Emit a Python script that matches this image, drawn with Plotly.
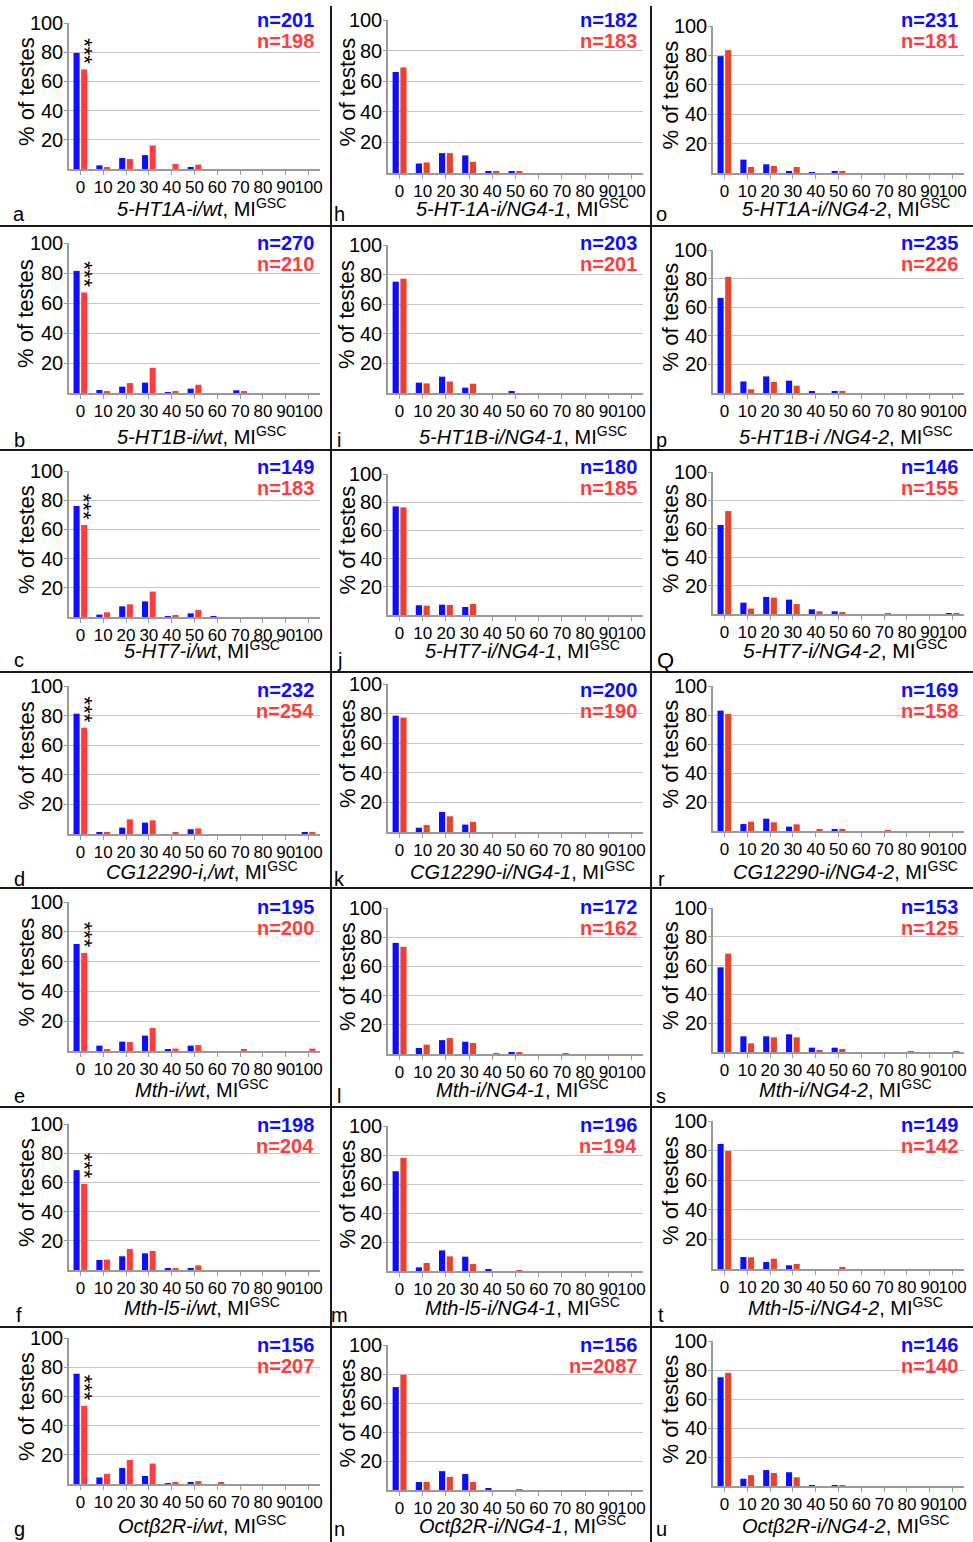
import plotly.graph_objects as go

W, H = 973, 1542

# MI(GSC) bins on the x axis
MI_BINS = [0, 10, 20, 30, 40, 50, 60, 70, 80, 90, 100]
MI_LABELS = [str(v) for v in MI_BINS]
Y_TICKS = [20, 40, 60, 80, 100]

# % of testes per MI bin: blue = control, red = RNAi
BLUE_A = [79.5, 2.5, 7.5, 9.5, 0, 0.9, 0, 0, 0, 0, 0]
RED_A = [68.2, 0.9, 6.8, 16.1, 3.4, 3.0, 0, 0, 0, 0, 0]
BLUE_B = [81.4, 2.0, 4.2, 6.9, 0.4, 2.9, 0, 1.8, 0, 0, 0]
RED_B = [67.0, 1.3, 6.6, 16.8, 1.3, 5.5, 0, 1.0, 0, 0, 0]
BLUE_C = [76.0, 1.6, 7.3, 10.7, 0.3, 2.5, 0.5, 0, 0, 0, 0]
RED_C = [63.0, 3.2, 8.7, 17.4, 0.9, 4.8, 0, 0, 0, 0, 0]
BLUE_D = [81.3, 0.9, 4.3, 7.7, 0, 3.2, 0, 0, 0, 0, 1.1]
RED_D = [71.8, 1.1, 9.9, 9.2, 1.1, 3.8, 0, 0, 0, 0, 0.7]
BLUE_E = [71.8, 3.6, 6.3, 10.3, 1.1, 3.6, 0, 0, 0, 0, 0]
RED_E = [65.8, 1.1, 6.0, 15.4, 1.6, 4.0, 0, 0.7, 0, 0, 1.6]
BLUE_F = [68.4, 6.9, 9.4, 11.4, 1.4, 0.9, 0, 0, 0, 0, 0]
RED_F = [59.0, 7.1, 14.4, 13.0, 0.9, 3.2, 0, 0, 0, 0, 0]
BLUE_G = [75.5, 4.5, 11.0, 5.5, 0.5, 1.0, 0, 0, 0, 0, 0]
RED_G = [53.5, 7.0, 16.5, 14.0, 1.0, 2.0, 0.7, 0, 0, 0, 0]

BLUE_H = [66.0, 6.2, 13.0, 11.5, 1.2, 1.2, 0, 0, 0, 0, 0]
RED_H = [69.0, 6.9, 13.0, 7.3, 1.2, 1.2, 0, 0, 0, 0, 0]
BLUE_I = [75.2, 7.0, 11.0, 3.6, 0, 0.8, 0, 0, 0, 0, 0]
RED_I = [77.2, 6.5, 7.7, 6.3, 0, 0, 0, 0, 0, 0, 0]
BLUE_J = [77.0, 6.9, 7.3, 5.7, 0, 0, 0, 0, 0, 0, 0]
RED_J = [76.3, 6.6, 7.1, 7.8, 0, 0, 0, 0, 0, 0, 0]
BLUE_K = [78.6, 2.9, 13.5, 5.0, 0, 0, 0, 0, 0, 0, 0]
RED_K = [77.3, 4.7, 10.6, 6.8, 0, 0, 0, 0, 0, 0, 0]
BLUE_L = [76.1, 4.1, 9.5, 8.4, 0, 0.7, 0, 0, 0, 0, 0]
RED_L = [73.4, 6.4, 10.9, 7.5, 0.3, 0.7, 0, 0.3, 0, 0, 0]
BLUE_M = [68.8, 2.5, 14.2, 9.9, 1.4, 0, 0, 0, 0, 0, 0]
RED_M = [78.0, 5.5, 10.1, 4.8, 0, 0.5, 0, 0, 0, 0, 0]
BLUE_N = [71.0, 5.5, 13.0, 11.0, 1.0, 0, 0, 0, 0, 0, 0]
RED_N = [79.5, 5.5, 9.0, 5.5, 0, 0.5, 0, 0, 0, 0, 0]

BLUE_O = [79.5, 9.1, 5.9, 1.4, 0.5, 0.9, 0, 0, 0, 0, 0]
RED_O = [83.6, 4.1, 4.8, 4.1, 0, 1.1, 0, 0, 0, 0, 0]
BLUE_P = [66.5, 8.1, 11.6, 8.6, 1.2, 0.9, 0, 0, 0, 0, 0]
RED_P = [81.2, 2.6, 7.7, 5.1, 0, 0.9, 0, 0, 0, 0, 0]
BLUE_Q = [62.7, 8.0, 12.0, 10.1, 3.3, 1.9, 0, 0, 0, 0, 0.3]
RED_Q = [72.5, 3.8, 11.5, 7.0, 1.9, 1.4, 0, 0.3, 0, 0, 0.3]
BLUE_R = [83.0, 4.8, 8.5, 3.0, 0, 1.1, 0, 0, 0, 0, 0]
RED_R = [80.8, 6.4, 6.0, 4.6, 1.4, 0.7, 0, 0.4, 0, 0, 0]
BLUE_S = [58.8, 10.9, 10.9, 12.3, 3.0, 3.0, 0, 0, 0, 0, 0]
RED_S = [68.3, 6.0, 10.2, 10.2, 0.7, 2.1, 0, 0, 0.6, 0, 0.6]
BLUE_T = [84.5, 8.1, 4.7, 2.5, 0, 0, 0, 0, 0, 0, 0]
RED_T = [79.7, 7.9, 7.0, 3.4, 0, 1.4, 0, 0, 0, 0, 0]
BLUE_U = [75.0, 5.0, 11.0, 9.5, 0.5, 0.5, 0, 0, 0, 0, 0]
RED_U = [78.0, 7.5, 9.0, 6.0, 0, 0.5, 0, 0, 0, 0, 0]

BLUE_SERIES = [BLUE_A, BLUE_B, BLUE_C, BLUE_D, BLUE_E, BLUE_F, BLUE_G,
               BLUE_H, BLUE_I, BLUE_J, BLUE_K, BLUE_L, BLUE_M, BLUE_N,
               BLUE_O, BLUE_P, BLUE_Q, BLUE_R, BLUE_S, BLUE_T, BLUE_U]
RED_SERIES = [RED_A, RED_B, RED_C, RED_D, RED_E, RED_F, RED_G,
              RED_H, RED_I, RED_J, RED_K, RED_L, RED_M, RED_N,
              RED_O, RED_P, RED_Q, RED_R, RED_S, RED_T, RED_U]

N_BLUE = [201, 270, 149, 232, 195, 198, 156,
          182, 203, 180, 200, 172, 196, 156,
          231, 235, 146, 169, 153, 149, 146]
N_RED = [198, 210, 183, 254, 200, 204, 207,
         183, 201, 185, 190, 162, 194, 2087,
         181, 226, 155, 158, 125, 142, 140]

PANEL_LETTERS = ["a", "b", "c", "d", "e", "f", "g",
                 "h", "i", "j", "k", "l", "m", "n",
                 "o", "p", "Q", "r", "s", "t", "u"]

GENOTYPES = [
    "5-HT1A-i/wt", "5-HT1B-i/wt", "5-HT7-i/wt", "CG12290-i,/wt",
    "Mth-i/wt", "Mth-l5-i/wt", "Oct\u03b22R-i/wt",
    "5-HT-1A-i/NG4-1", "5-HT1B-i/NG4-1", "5-HT7-i/NG4-1", "CG12290-i/NG4-1",
    "Mth-i/NG4-1", "Mth-l5-i/NG4-1", "Oct\u03b22R-i/NG4-1",
    "5-HT1A-i/NG4-2", "5-HT1B-i /NG4-2", "5-HT7-i/NG4-2", "CG12290-i/NG4-2",
    "Mth-i/NG4-2", "Mth-l5-i/NG4-2", "Oct\u03b22R-i/NG4-2",
]

# panels whose RNAi distribution differs significantly from control
SIGNIFICANT = ["a", "b", "c", "d", "e", "f", "g"]

# ---- geometry (pixels) ----
COL_X = [(69, 320), (388, 643), (713, 964)]
PANEL_TOP = [[23, 243, 471, 686, 902, 1124, 1338],
             [20, 245, 474, 684, 908, 1126, 1345],
             [26, 250, 472, 686, 908, 1121, 1341]]
PANEL_BOTTOM = [[169, 393, 617, 834, 1051, 1270, 1484],
                [173, 393, 615, 832, 1054, 1271, 1490],
                [173, 393, 614, 831, 1052, 1269, 1486]]
N_LABEL_Y = [20, 243, 467, 690, 907, 1125, 1345]
TITLE_Y = [208, 435, 649, 870, 1088, 1306, 1524]
LETTER_Y = [214, 440, 660, 879, 1096, 1315, 1529]
LETTER_X = [19, 339, 661]
YTITLE_X = [26, 347, 670]
ROW_LINES = [226, 450, 672, 888, 1107, 1327]
COL_LINES = [331, 651]

BLUE = "#0d0dff"
RED_COL = ["#ff3d3d", "#e8432c", "#e8432c"]
N_RED_COLOR = "#ff3d3d"
FONT = "Liberation Sans, Arial, Helvetica, sans-serif"

BARGAP = 0.33
BARGROUPGAP = 0.2


def px_x(v):
    return v / W


def px_y(v):
    return 1 - v / H


fig = go.Figure()
annotations = []
shapes = []

for idx in range(21):
    col, row = divmod(idx, 7)
    sfx = "" if idx == 0 else str(idx + 1)
    xa, ya = "x" + sfx, "y" + sfx
    x0, x1 = COL_X[col]
    top, bot = PANEL_TOP[col][row], PANEL_BOTTOM[col][row]

    fig.add_trace(go.Bar(x=MI_BINS, y=BLUE_SERIES[idx], marker_color=BLUE,
                         marker_line_width=0, xaxis=xa, yaxis=ya,
                         showlegend=False))
    fig.add_trace(go.Bar(x=MI_BINS, y=RED_SERIES[idx], marker_color=RED_COL[col],
                         marker_line_width=0, xaxis=xa, yaxis=ya,
                         showlegend=False))

    fig.layout["xaxis" + sfx] = dict(
        domain=[px_x(x0), px_x(x1)], anchor=ya, range=[-5, 105],
        automargin=False,
        tickmode="array", tickvals=MI_BINS, ticktext=MI_LABELS,
        tickangle=0, ticks="outside", ticklen=4, tickcolor="#9a9a9a",
        ticklabelstandoff=-2,
        showline=True, linecolor="#9a9a9a", linewidth=1.5,
        showgrid=False, zeroline=False, fixedrange=True,
        tickfont=dict(family=FONT, size=17, color="black"),
    )
    fig.layout["yaxis" + sfx] = dict(
        domain=[px_y(bot), px_y(top)], anchor=xa, range=[0, 100],
        automargin=False,
        tickmode="array", tickvals=Y_TICKS,
        ticks="outside", ticklen=3, tickcolor="#9a9a9a",
        ticklabelstandoff=-3,
        showline=True, linecolor="#9a9a9a", linewidth=1.5,
        showgrid=True, gridcolor="#c4c4c4", gridwidth=1.2,
        zeroline=False, fixedrange=True,
        tickfont=dict(family=FONT, size=20, color="black"),
    )

    # sample sizes
    annotations.append(dict(
        xref="paper", yref="paper", x=px_x(x1 - 4), y=px_y(N_LABEL_Y[row]),
        xanchor="right", yanchor="middle", showarrow=False,
        text=f"n={N_BLUE[idx]}",
        font=dict(family=FONT, size=20, color=BLUE, weight="bold")))
    annotations.append(dict(
        xref="paper", yref="paper", x=px_x(x1 - 4), y=px_y(N_LABEL_Y[row] + 21),
        xanchor="right", yanchor="middle", showarrow=False,
        text=f"n={N_RED[idx]}",
        font=dict(family=FONT, size=20, color=N_RED_COLOR, weight="bold")))

    # y-axis title
    annotations.append(dict(
        xref="paper", yref="paper", x=px_x(YTITLE_X[col]),
        y=px_y((top + bot) / 2 - 4), textangle=-90,
        xanchor="center", yanchor="middle", showarrow=False,
        text="% of testes", font=dict(family=FONT, size=22, color="black")))

    # x-axis title
    big = PANEL_LETTERS[idx] == "Q"
    annotations.append(dict(
        xref="paper", yref="paper", x=px_x((x0 + x1) / 2 + 7),
        y=px_y(TITLE_Y[row]), xanchor="center", yanchor="middle",
        showarrow=False,
        text=f"<i>{GENOTYPES[idx]}</i>, MI<sup>GSC</sup>",
        font=dict(family=FONT, size=21 if big else 20, color="black")))

    # panel letter
    annotations.append(dict(
        xref="paper", yref="paper", x=px_x(LETTER_X[col] + (4 if big else 0)),
        y=px_y(LETTER_Y[row]), xanchor="center", yanchor="middle",
        showarrow=False, text=PANEL_LETTERS[idx],
        font=dict(family=FONT, size=22 if big else 20, color="black")))

    # significance marker above the RNAi bar of the first bin
    if PANEL_LETTERS[idx] in SIGNIFICANT:
        slot = (1 - BARGAP) * 10 / 2
        annotations.append(dict(
            xref=xa, yref=ya, x=MI_BINS[0] + slot / 2,
            y=RED_SERIES[idx][0], yanchor="bottom", xanchor="center",
            yshift=3, showarrow=False, textangle=90, text="***",
            font=dict(family=FONT, size=22, color="black")))

# panel dividers
for yy in ROW_LINES:
    shapes.append(dict(type="line", xref="paper", yref="paper",
                       x0=0, x1=1, y0=px_y(yy), y1=px_y(yy),
                       line=dict(color="#1a1a1a", width=2)))
for xx in COL_LINES:
    shapes.append(dict(type="line", xref="paper", yref="paper",
                       x0=px_x(xx), x1=px_x(xx), y0=px_y(6), y1=0,
                       line=dict(color="#1a1a1a", width=2)))

fig.update_layout(
    width=W, height=H, margin=dict(l=0, r=0, t=0, b=0, pad=0),
    paper_bgcolor="white", plot_bgcolor="white",
    barmode="group", bargap=BARGAP, bargroupgap=BARGROUPGAP,
    annotations=annotations, shapes=shapes,
    font=dict(family=FONT, color="black"),
)

fig.write_html("out.html")
